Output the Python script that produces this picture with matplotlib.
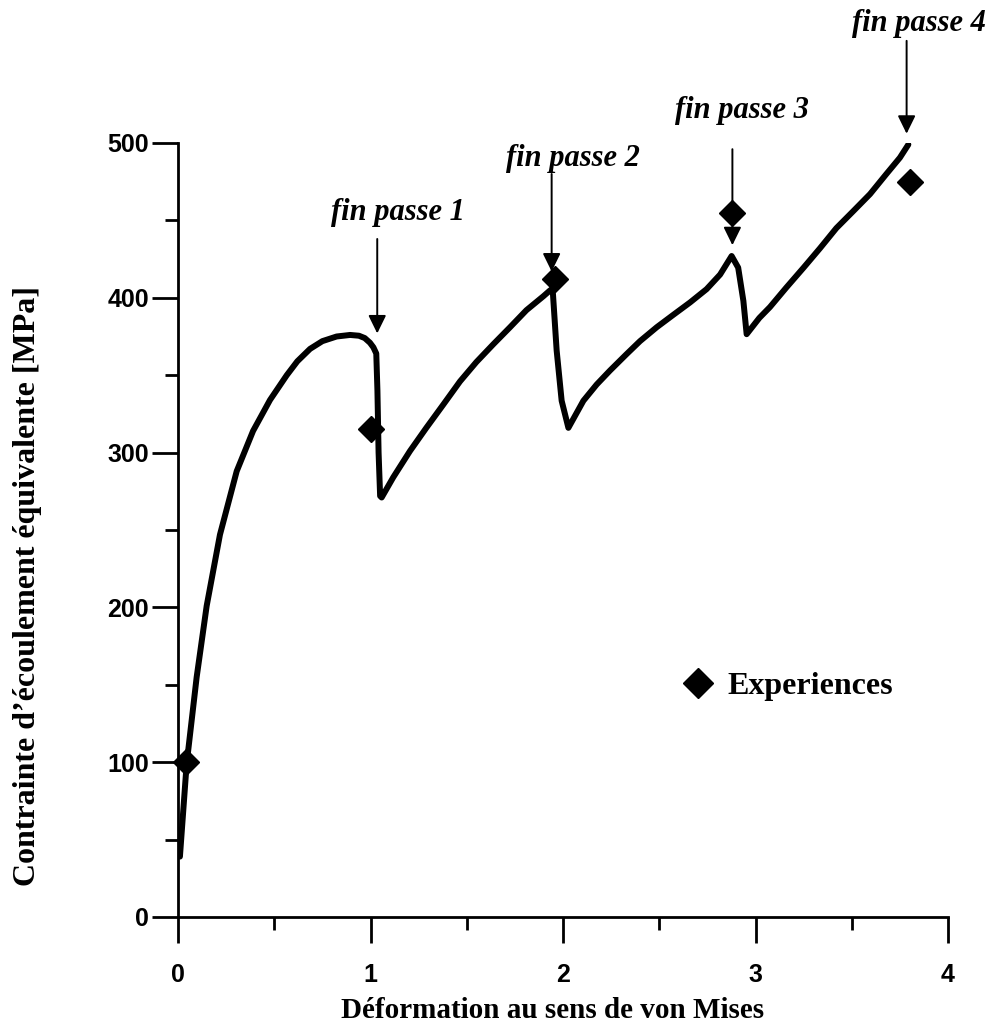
import matplotlib
matplotlib.use("Agg")
import matplotlib.pyplot as plt
from matplotlib.lines import Line2D

# ---- data ----
curve_x = [0.01, 0.045, 0.097, 0.149, 0.218, 0.305, 0.39, 0.478, 0.565, 0.62,
           0.686, 0.75, 0.824, 0.894, 0.94, 0.97, 0.997, 1.015, 1.03, 1.036,
           1.042, 1.05, 1.058,
           1.118, 1.205, 1.29, 1.378, 1.465, 1.55, 1.638, 1.725, 1.81, 1.898, 1.93,
           1.946, 1.967, 1.993, 2.028,
           2.106, 2.175, 2.244, 2.33, 2.4, 2.487, 2.573, 2.66, 2.746, 2.816, 2.876,
           2.91, 2.937, 2.954,
           3.02, 3.075, 3.16, 3.25, 3.335, 3.42, 3.508, 3.595, 3.68, 3.75, 3.794]
curve_y = [39, 99, 155, 201, 247, 288, 314, 334, 350, 359,
           367, 372, 375, 376, 375.5, 374, 371, 368, 364, 340,
           300, 272, 271,
           284, 301, 316, 331, 346, 358.5, 370, 381, 392, 401, 404.5,
           406, 366, 333.5, 316,
           333.5, 344, 353, 363.6, 372, 381, 389, 397, 405.6, 415, 427,
           419.5, 398, 376.5,
           387, 394, 406.6, 419.5, 432, 445, 456, 467, 480, 490.5, 499]

exp_x = [0.04, 1.0, 1.96, 2.88, 3.80]
exp_y = [100, 315, 412, 455, 475]

pass_labels = ["fin passe 1", "fin passe 2", "fin passe 3", "fin passe 4"]
pass_text_x = [1.14, 2.05, 2.93, 3.85]
pass_text_y = [455, 490, 521, 577]
arrow_x = [1.035, 1.941, 2.88, 3.785]
arrow_top = [438, 480, 496, 566]
arrow_tip = [377, 417, 434, 506]

x_ticks = [0, 1, 2, 3, 4]
y_ticks = [0, 100, 200, 300, 400, 500]

xlabel = "Déformation au sens de von Mises"
ylabel = "Contrainte d’écoulement équivalente [MPa]"
legend_label = "Experiences"

# ---- figure ----
fig = plt.figure(figsize=(9.95, 10.35), dpi=100)
ax = fig.add_axes([178 / 995, (1035 - 917) / 1035, 770 / 995, 774 / 1035])

ax.plot(curve_x, curve_y, color="black", lw=4.3, solid_capstyle="round",
        solid_joinstyle="round", zorder=3)
ax.plot(exp_x, exp_y, linestyle="none", marker="D", ms=13.5, color="black",
        zorder=4, clip_on=False)

ax.set_xlim(0, 4)
ax.set_ylim(0, 500)

for s in ["top", "right"]:
    ax.spines[s].set_visible(False)
for s in ["left", "bottom"]:
    ax.spines[s].set_linewidth(2)

ax.set_xticks(x_ticks)
ax.set_yticks(y_ticks)
ax.set_xticks([0.5, 1.5, 2.5, 3.5], minor=True)
ax.set_yticks([50, 150, 250, 350, 450], minor=True)
ax.tick_params(axis="both", which="major", direction="out", length=19, width=2)
ax.tick_params(axis="both", which="minor", direction="out", length=9.5, width=2)
ax.tick_params(axis="x", which="major", pad=14)
ax.tick_params(axis="y", which="major", pad=2)
for lab in ax.get_xticklabels() + ax.get_yticklabels():
    lab.set_fontfamily("Liberation Sans")
    lab.set_fontweight("bold")
    lab.set_fontsize(18)

ax.set_xlabel(xlabel, family="Liberation Serif", fontweight="bold", fontsize=21)
ax.xaxis.set_label_coords(0.487, -0.103)
ax.set_ylabel(ylabel, family="Liberation Serif", fontweight="bold", fontsize=23)
ax.yaxis.set_label_coords(-0.177, 0.428)

for lab, tx, ty, axx, at, ap in zip(pass_labels, pass_text_x, pass_text_y,
                                     arrow_x, arrow_top, arrow_tip):
    ax.text(tx, ty, lab, family="Liberation Serif", fontweight="bold",
            style="italic", fontsize=22, ha="center", va="center", clip_on=False)
    ax.annotate("", xy=(axx, ap), xytext=(axx, at), annotation_clip=False,
                arrowprops=dict(arrowstyle="-|>,head_length=0.55,head_width=0.27",
                                mutation_scale=20, lw=1.4, color="black",
                                shrinkA=0, shrinkB=0))

handle = Line2D([], [], linestyle="none", marker="D", ms=13.5, color="black")
leg = ax.legend([handle], [legend_label], loc="center left",
                bbox_to_anchor=(0.654, 0.298), frameon=False, markerscale=1.15,
                handlelength=1.0, handletextpad=0.45, borderaxespad=0,
                borderpad=0,
                prop=dict(family="Liberation Serif", weight="bold", size=23))

fig.savefig("out.png", dpi=100)
